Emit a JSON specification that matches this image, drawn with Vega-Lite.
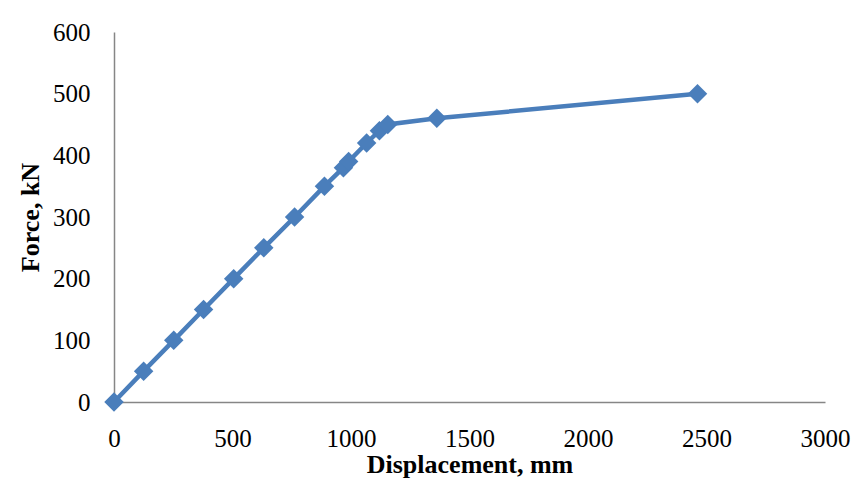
{
  "$schema": "https://vega.github.io/schema/vega-lite/v6.json",
  "width": 711,
  "height": 370,
  "autosize": {"type": "none"},
  "padding": {"left": 114, "top": 32, "right": 32, "bottom": 84},
  "background": "white",
  "config": {
    "view": {"stroke": null},
    "font": "Liberation Serif"
  },
  "data": {
    "values": [
      {"Displacement": 0, "Force": 0},
      {"Displacement": 125, "Force": 50},
      {"Displacement": 252, "Force": 100},
      {"Displacement": 378, "Force": 150},
      {"Displacement": 505, "Force": 200},
      {"Displacement": 632, "Force": 250},
      {"Displacement": 762, "Force": 300},
      {"Displacement": 888, "Force": 350},
      {"Displacement": 968, "Force": 380},
      {"Displacement": 990, "Force": 390},
      {"Displacement": 1066, "Force": 420},
      {"Displacement": 1120, "Force": 440},
      {"Displacement": 1155, "Force": 450},
      {"Displacement": 1362, "Force": 460},
      {"Displacement": 2462, "Force": 500}
    ]
  },
  "encoding": {
    "x": {
      "field": "Displacement",
      "type": "quantitative",
      "scale": {"domain": [0, 3000], "nice": false, "zero": true},
      "axis": {
        "title": "Displacement, mm",
        "values": [0, 500, 1000, 1500, 2000, 2500, 3000],
        "format": "d",
        "grid": false,
        "ticks": false,
        "domainColor": "#868686",
        "domainWidth": 1.5,
        "labelFont": "Liberation Serif",
        "labelFontSize": 25,
        "labelColor": "#000000",
        "labelPadding": 24,
        "labelFlush": false,
        "titleFont": "Liberation Serif",
        "titleFontSize": 26,
        "titleFontWeight": "bold",
        "titleColor": "#000000",
        "titlePadding": 0
      }
    },
    "y": {
      "field": "Force",
      "type": "quantitative",
      "scale": {"domain": [0, 600], "nice": false},
      "axis": {
        "title": "Force, kN",
        "values": [0, 100, 200, 300, 400, 500, 600],
        "format": "d",
        "grid": false,
        "ticks": false,
        "domainColor": "#868686",
        "domainWidth": 1.5,
        "labelFont": "Liberation Serif",
        "labelFontSize": 25,
        "labelColor": "#000000",
        "labelPadding": 24,
        "labelFlush": false,
        "titleFont": "Liberation Serif",
        "titleFontSize": 26,
        "titleFontWeight": "bold",
        "titleColor": "#000000",
        "titlePadding": 9
      }
    }
  },
  "layer": [
    {
      "mark": {"type": "line", "color": "#4A7EBB", "strokeWidth": 4.5}
    },
    {
      "mark": {"type": "point", "shape": "diamond", "filled": true, "color": "#4A7EBB", "opacity": 1, "size": 380}
    }
  ]
}
